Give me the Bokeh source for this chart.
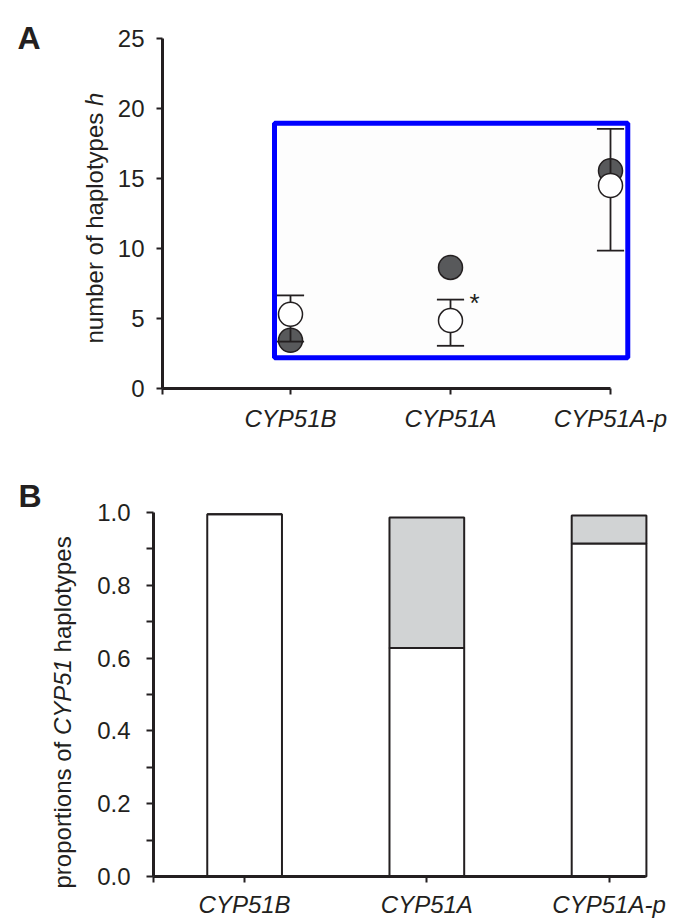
from math import pi
from bokeh.plotting import figure
from bokeh.layouts import column, row
from bokeh.models import FixedTicker, Label, Range1d, BoxAnnotation, NumeralTickFormatter, ColumnDataSource
from bokeh.embed import file_html
from bokeh.resources import INLINE

# ---------------- data ----------------
categories = ["CYP51B", "CYP51A", "CYP51A-p"]
cat_pos = [1, 2, 3]

# panel A: number of haplotypes h
h_observed = [3.45, 8.65, 15.55]          # dark circles
h_expected = [5.3, 4.85, 14.5]            # white circles
h_expected_upper = [6.65, 6.35, 18.55]
h_expected_lower = [3.35, 3.05, 9.85]
a_yticks = [0, 5, 10, 15, 20, 25]

# panel B: proportions of CYP51 haplotypes
prop_main = [0.995, 0.628, 0.915]         # white part
prop_other = [0.0, 0.358, 0.077]          # grey part
b_yticks = [0.0, 0.2, 0.4, 0.6, 0.8, 1.0]
b_yminor = [0.1, 0.3, 0.5, 0.7, 0.9]

# ---------------- style ----------------
FONT = "Liberation Sans"
INK = "#231f20"
FS = "24px"
WIDTH = 686

# Arial / Liberation Sans advance widths (em) for text measurement
W = {' ': .278, 'a': .556, 'b': .556, 'e': .556, 'f': .278, 'h': .556, 'i': .222,
     'l': .222, 'm': .833, 'n': .556, 'o': .556, 'p': .556, 'r': .333, 's': .5,
     't': .278, 'u': .556, 'y': .5, 'C': .722, 'Y': .667, 'P': .667, '5': .556, '1': .556}


def text_w(s, size=24):
    return sum(W[c] for c in s) * size


def fit_range(d0, d1, p0, p1, total, flip=False):
    """data d0->pixel p0, d1->pixel p1; returns Range1d covering pixels 0..total"""
    scale = (p1 - p0) / (d1 - d0)
    if not flip:
        return Range1d(d0 - p0 / scale, d0 + (total - p0) / scale)
    # pixel measured from top, data grows upward
    return Range1d(d0 - (total - p0) / (-scale), d0 + p0 / (-scale))


def style_axis(ax):
    ax.axis_line_width = 3
    ax.axis_line_color = INK
    ax.major_tick_line_width = 2
    ax.major_tick_line_color = INK
    ax.major_tick_out = 6
    ax.major_tick_in = 0
    ax.minor_tick_line_color = None
    ax.major_label_text_font = FONT
    ax.major_label_text_font_size = FS
    ax.major_label_text_color = INK


def make_fig(height, xr, yr):
    p = figure(width=WIDTH, height=height, x_range=xr, y_range=yr,
               output_backend="svg", toolbar_location=None, min_border=0)
    p.outline_line_color = None
    p.grid.grid_line_color = None
    p.background_fill_color = "white"
    p.border_fill_color = "white"
    for ax in (p.xaxis[0], p.yaxis[0]):
        style_axis(ax)
    return p


def rotated_title(p, parts, x, y0):
    """parts: list of (text, style) laid end to end, reading bottom-to-top"""
    y = y0
    for txt, st in parts:
        if txt.startswith(' '):
            y += text_w(' ')
            txt = txt.strip()
        p.add_layout(Label(x=x, y=y, x_units="screen", y_units="screen", text=txt,
                           angle=pi / 2, text_align="left", text_baseline="middle",
                           text_font=FONT, text_font_size=FS, text_font_style=st,
                           text_color=INK))
        y += text_w(txt)


def panel_letter(p, txt, x, y):
    p.add_layout(Label(x=x, y=y, x_units="screen", y_units="screen", text=txt,
                       text_font=FONT, text_font_size="32px", text_font_style="bold",
                       text_color=INK, text_baseline="alphabetic"))


def category_axis(ax, start):
    # tick at the axis origin (unlabelled) plus one per category
    ax.ticker = FixedTicker(ticks=[start] + cat_pos)
    overrides = {k: v for k, v in zip(cat_pos, categories)}
    overrides[start] = ""
    ax.major_label_overrides = overrides
    ax.major_label_text_font_style = "italic"


# ================= Panel A =================
A_H = 440
A_X0, A_X1 = 0.2, 3.0
pA = make_fig(A_H,
              fit_range(A_X0, A_X1, 162, 610, WIDTH),
              fit_range(0, 25, 388, 38, A_H, flip=True))

pA.xaxis.fixed_location = 0
pA.xaxis.bounds = (A_X0, A_X1)
category_axis(pA.xaxis[0], A_X0)
pA.xaxis.major_label_standoff = 10
pA.yaxis.fixed_location = A_X0
pA.yaxis.bounds = (0, 25)
pA.yaxis.ticker = FixedTicker(ticks=a_yticks)
pA.yaxis.major_label_standoff = 12

pA.add_layout(BoxAnnotation(left=0.9, right=3.108, bottom=2.2, top=18.95,
                            fill_color="#fdfdfd", fill_alpha=1.0,
                            line_color="#0000ff", line_width=5, line_alpha=1.0,
                            level="underlay"))

srcA = ColumnDataSource(dict(
    x=cat_pos, obs=h_observed, exp=h_expected, up=h_expected_upper, lo=h_expected_lower,
    cap_l=[c - 0.085 for c in cat_pos], cap_r=[c + 0.085 for c in cat_pos]))

pA.scatter("x", "obs", source=srcA, size=24, fill_color="#58595b", line_color=INK, line_width=1.5)
pA.segment(x0="x", y0="lo", x1="x", y1="up", source=srcA, line_color=INK, line_width=1.8)
pA.segment(x0="cap_l", y0="up", x1="cap_r", y1="up", source=srcA, line_color=INK, line_width=1.8)
pA.segment(x0="cap_l", y0="lo", x1="cap_r", y1="lo", source=srcA, line_color=INK, line_width=1.8)
pA.scatter("x", "exp", source=srcA, size=24, fill_color="white", line_color=INK, line_width=1.5)

# significance mark next to CYP51A
pA.add_layout(Label(x=cat_pos[1] + 0.15, y=h_expected_upper[1] - 0.25, text="*",
                    text_align="center", text_baseline="middle",
                    text_font=FONT, text_font_size="26px", text_color=INK))

rotated_title(pA, [("number of haplotypes", "normal"), (" h", "italic")], x=94, y0=A_H - 343)
panel_letter(pA, "A", 17, A_H - 37)

# ================= Panel B =================
B_H = 480
B_TOP = A_H            # page y of panel B's top edge
B_X0, B_X1 = 0.5, 3.2
pB = make_fig(B_H,
              fit_range(B_X0, B_X1, 153, 645, WIDTH),
              fit_range(0, 1.0, 876 - B_TOP, 512 - B_TOP, B_H, flip=True))

pB.xaxis.fixed_location = 0
pB.xaxis.bounds = (B_X0, B_X1)
category_axis(pB.xaxis[0], B_X0)
pB.xaxis.major_label_standoff = 8
pB.yaxis.fixed_location = B_X0
pB.yaxis.bounds = (0, 1.0)
pB.yaxis.ticker = FixedTicker(ticks=b_yticks, minor_ticks=b_yminor)
pB.yaxis.formatter = NumeralTickFormatter(format="0.0")
pB.yaxis.major_label_standoff = 16
pB.yaxis.major_tick_out = 7
pB.yaxis.minor_tick_line_color = INK
pB.yaxis.minor_tick_line_width = 2
pB.yaxis.minor_tick_out = 7
pB.yaxis.minor_tick_in = 0

srcB = ColumnDataSource(dict(x=cat_pos, main=prop_main,
                             total=[a + b for a, b in zip(prop_main, prop_other)],
                             zero=[0.0] * len(cat_pos)))
pB.vbar(x="x", width=0.41, bottom="zero", top="main", source=srcB,
        fill_color="white", line_color=INK, line_width=2)
pB.vbar(x="x", width=0.41, bottom="main", top="total", source=srcB,
        fill_color="#d1d3d4", line_color=INK, line_width=2)

rotated_title(pB, [("proportions of", "normal"), (" CYP51", "italic"), (" haplotypes", "normal")],
              x=62, y0=B_H - (888 - B_TOP))
panel_letter(pB, "B", 18, B_H - (495 - B_TOP))

layout = column(row(pA), row(pB), spacing=0)
open("out.html", "w").write(file_html(layout, INLINE))
